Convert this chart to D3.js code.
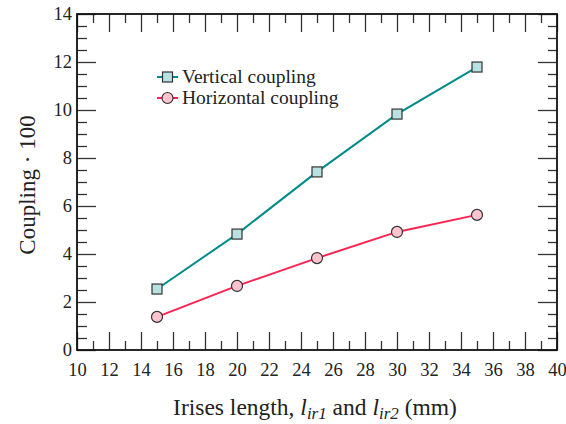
<!DOCTYPE html>
<html>
<head>
<meta charset="utf-8">
<script src="https://cdn.jsdelivr.net/npm/d3@7"></script>
<style>
  body{margin:0;background:#fff}
  svg{display:block}
  text{font-family:'Liberation Serif','DejaVu Serif',serif;fill:#222}
</style>
</head>
<body>
<svg id="chart" width="566" height="424"></svg>
<script>
// irises length (mm) and coupling x100
const irisLength = [15, 20, 25, 30, 35];
const verticalCoupling = [2.54, 4.83, 7.42, 9.83, 11.79];
const horizontalCoupling = [1.38, 2.67, 3.83, 4.92, 5.63];
const seriesNames = ['Vertical coupling', 'Horizontal coupling'];
const xMajorTicks = d3.range(10, 41, 2);
const xMinorTicks = d3.range(11, 40, 2);
const yMajorTicks = d3.range(0, 15, 2);
const yMinorTicks = d3.range(0.5, 14, 0.5).filter(v => v % 2 !== 0);

const W = 566, H = 424;
const margin = { top: 14, right: 9, bottom: 74, left: 77 };
const w = W - margin.left - margin.right;
const h = H - margin.top - margin.bottom;

const svg = d3.select('#chart');
const g = svg.append('g').attr('transform', `translate(${margin.left},${margin.top})`);

const x = d3.scaleLinear().domain([10, 40]).range([0, w]);
const y = d3.scaleLinear().domain([0, 14]).range([h, 0]);

const tickCol = '#333';
const styleAxis = sel => {
  sel.select('.domain').remove();
  sel.selectAll('.tick line').attr('stroke', tickCol).attr('stroke-width', 1.3);
  sel.selectAll('text').style('font-size', '18.5px').attr('fill', '#222');
};

// bottom axis (inward ticks)
g.append('g').attr('transform', `translate(0,${h})`)
  .call(d3.axisBottom(x).tickValues(xMajorTicks).tickSize(-18).tickPadding(13).tickFormat(d3.format('d')))
  .call(styleAxis);
g.append('g').attr('transform', `translate(0,${h})`)
  .call(d3.axisBottom(x).tickValues(xMinorTicks).tickSize(-9).tickFormat(''))
  .call(styleAxis);
// top axis
g.append('g')
  .call(d3.axisTop(x).tickValues(xMajorTicks).tickSize(-18).tickFormat(''))
  .call(styleAxis);
g.append('g')
  .call(d3.axisTop(x).tickValues(xMinorTicks).tickSize(-9).tickFormat(''))
  .call(styleAxis);
// left axis
g.append('g')
  .call(d3.axisLeft(y).tickValues(yMajorTicks).tickSize(-19).tickPadding(5).tickFormat(d3.format('d')))
  .call(styleAxis);
g.append('g')
  .call(d3.axisLeft(y).tickValues(yMinorTicks).tickSize(-10).tickFormat(''))
  .call(styleAxis);
// right axis
g.append('g').attr('transform', `translate(${w},0)`)
  .call(d3.axisRight(y).tickValues(yMajorTicks).tickSize(-19).tickFormat(''))
  .call(styleAxis);
g.append('g').attr('transform', `translate(${w},0)`)
  .call(d3.axisRight(y).tickValues(yMinorTicks).tickSize(-9).tickFormat(''))
  .call(styleAxis);

g.append('rect').attr('width', w).attr('height', h)
  .attr('fill', 'none').attr('stroke', '#111').attr('stroke-width', 1.8);

const series = [
  { name: seriesNames[0], values: verticalCoupling, line: '#008b8b', fill: '#b8e2e2', shape: 'square' },
  { name: seriesNames[1], values: horizontalCoupling, line: '#ff2352', fill: '#ffc4ce', shape: 'circle' },
];

const line = d3.line().x(d => x(d[0])).y(d => y(d[1]));

function marker(sel, s, cx, cy) {
  if (s.shape === 'square') {
    sel.append('rect').attr('x', cx - 5).attr('y', cy - 5).attr('width', 10).attr('height', 10)
      .attr('fill', s.fill).attr('stroke', '#333').attr('stroke-width', 1.2);
  } else {
    sel.append('circle').attr('cx', cx).attr('cy', cy).attr('r', 5.5)
      .attr('fill', s.fill).attr('stroke', '#333').attr('stroke-width', 1.2);
  }
}

series.forEach(s => {
  const pts = irisLength.map((l, i) => [l, s.values[i]]);
  g.append('path').datum(pts).attr('d', line)
    .attr('fill', 'none').attr('stroke', s.line).attr('stroke-width', 2);
  pts.forEach(p => marker(g, s, x(p[0]), y(p[1])));
});

// legend
const leg = g.append('g').attr('transform', `translate(${157 - margin.left},${77 - margin.top})`);
series.forEach((s, i) => {
  const row = leg.append('g').attr('transform', `translate(0,${i * 21})`);
  row.append('line').attr('x1', 0).attr('x2', 21).attr('stroke', s.line).attr('stroke-width', 2);
  marker(row, s, 10.5, 0);
  row.append('text').attr('x', 25).attr('y', 0).attr('dy', '0.33em')
    .style('font-size', '19.5px').text(s.name);
});

// axis titles
const xt = svg.append('text').attr('x', margin.left + w / 2 - 2).attr('y', 415)
  .attr('text-anchor', 'middle').style('font-size', '23.5px');
xt.append('tspan').text('Irises length, ');
xt.append('tspan').style('font-style', 'italic').text('l');
xt.append('tspan').style('font-style', 'italic').style('font-size', '17px').attr('dy', 4).text('ir1');
xt.append('tspan').attr('dy', -4).text(' and ');
xt.append('tspan').style('font-style', 'italic').text('l');
xt.append('tspan').style('font-style', 'italic').style('font-size', '17px').attr('dy', 4).text('ir2');
xt.append('tspan').attr('dy', -4).text(' (mm)');

svg.append('text').attr('transform', `translate(35,${margin.top + h / 2 + 3}) rotate(-90)`)
  .attr('text-anchor', 'middle').style('font-size', '23px').text('Coupling · 100');
</script>
</body>
</html>
